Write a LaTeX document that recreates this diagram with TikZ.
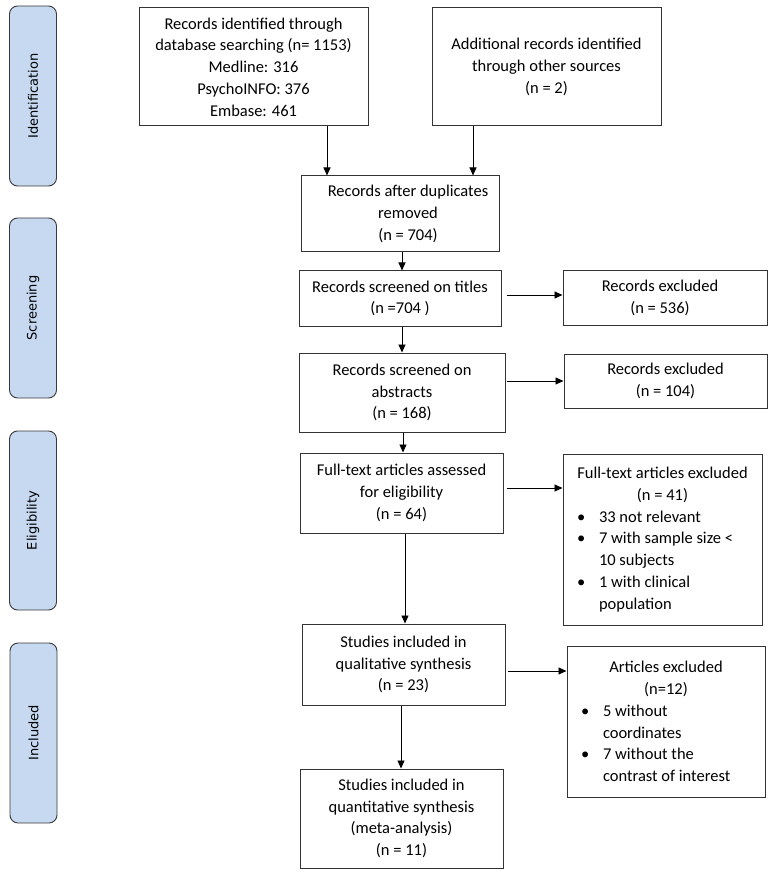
\documentclass[tikz,border=0pt]{standalone}
\usepackage{fontspec}
\setmainfont{Carlito}
\newfontfamily\phasefont{DejaVu Sans}
\usetikzlibrary{arrows.meta}
\definecolor{phasefill}{HTML}{C6D9F1}
\definecolor{phaseline}{HTML}{3A3A3A}
\definecolor{boxline}{HTML}{333333}
\newcommand{\hd}[2]{\makebox[#1][c]{#2}}
\newcommand{\bu}[2]{\makebox[#1][l]{\hspace*{14pt}\makebox[22pt][l]{\textbullet}#2}}
\newcommand{\bc}[2]{\makebox[#1][l]{\hspace*{36pt}#2}}
\begin{document}
\begin{tikzpicture}[x=1pt,y=-1pt,
  box/.style={draw=boxline, line width=1pt, rectangle, align=center, inner sep=0pt,
    font=\fontsize{16.5}{21.8}\selectfont},
  phase/.style={draw=phaseline, fill=phasefill, line width=0.9pt, rounded corners=8pt,
    minimum width=47pt, inner sep=0pt},
  phaselabel/.style={rotate=90, font=\phasefont\fontsize{13}{15}\selectfont},
  arr/.style={-{Triangle[length=8pt,width=7pt]}, line width=0.9pt, draw=black}]
\useasboundingbox (0,0) rectangle (772,874);
% phase boxes
\node[phase, minimum height=180pt] (pid) at (33,96) {};
\node[phaselabel] (lid) at (pid.center) {Identification};
\node[phase, minimum height=180pt] (psc) at (33,308) {};
\node[phaselabel] (lsc) at (psc.center) {Screening};
\node[phase, minimum height=179pt] (pel) at (33,520.5) {};
\node[phaselabel] (lel) at (pel.center) {Eligibility};
\node[phase, minimum height=180pt] (pin) at (33.5,733) {};
\node[phaselabel] (lin) at (pin.center) {Included};
% flow boxes
\node[box, minimum width=229pt, minimum height=118pt] (id1) at (253.5,67)
  {Records identified through\\database searching (n= 1153)\\Medline: 316\\PsychoINFO: 376\\Embase: 461};
\node[box, minimum width=229pt, minimum height=118pt] (id2) at (546.5,67)
  {Additional records identified\\through other sources\\(n = 2)};
\node[box, minimum width=198pt, minimum height=76pt] (dup) at (400,214)
  {\hspace*{16pt}Records after duplicates\\\hspace*{16pt}removed\\\hspace*{16pt}(n = 704)};
\node[box, minimum width=202pt, minimum height=55pt] (tit) at (400,298.5)
  {Records screened on titles\\(n =704 )};
\node[box, minimum width=204pt, minimum height=54pt] (ex1) at (665,298)
  {\hspace*{-10pt}Records excluded\\\hspace*{-10pt}(n = 536)};
\node[box, minimum width=206pt, minimum height=79pt] (abs) at (402,392.5)
  {Records screened on\\abstracts\\(n = 168)};
\node[box, minimum width=203pt, minimum height=54pt] (ex2) at (665.5,381)
  {Records excluded\\(n = 104)};
\node[box, minimum width=203pt, minimum height=80pt] (ft) at (401.5,493)
  {Full-text articles assessed\\for eligibility\\(n = 64)};
\node[box, minimum width=199pt, minimum height=171pt, align=left] (ex3) at (662.5,539.5)
  {\hd{199pt}{Full-text articles excluded}\\\hd{199pt}{(n = 41)}\\
   \bu{199pt}{33 not relevant}\\\bu{199pt}{7 with sample size <}\\\bc{199pt}{10 subjects}\\
   \bu{199pt}{1 with clinical}\\\bc{199pt}{population}};
\node[box, minimum width=203pt, minimum height=81pt] (qual) at (403.5,664.5)
  {Studies included in\\qualitative synthesis\\(n = 23)};
\node[box, minimum width=198pt, minimum height=151pt, align=left] (ex4) at (666,721.5)
  {\hd{198pt}{Articles excluded}\\\hd{198pt}{(n=12)}\\
   \bu{198pt}{5 without}\\\bc{198pt}{coordinates}\\
   \bu{198pt}{7 without the}\\\bc{198pt}{contrast of interest}};
\node[box, minimum width=203pt, minimum height=99pt] (quant) at (401.5,818.5)
  {Studies included in\\quantitative synthesis\\(meta-analysis)\\(n = 11)};
% connectors
\draw[arr] (id1.south -| 327,0) -- (dup.north -| 327,0);
\draw[arr] (id2.south -| 473,0) -- (dup.north -| 473,0);
\draw[arr] (dup.south -| 402,0) -- (tit.north -| 402,0);
\draw[arr] (tit.south -| 402,0) -- (abs.north -| 402,0);
\draw[arr] (abs.south -| 403,0) -- (ft.north -| 403,0);
\draw[arr] (ft.south -| 405,0) -- (qual.north -| 405,0);
\draw[arr] (qual.south -| 401,0) -- (quant.north -| 401,0);
\draw[arr, shorten <=5pt] (tit.east |- 0,295) -- (ex1.west |- 0,295);
\draw[arr, shorten <=1pt] (abs.east |- 0,381) -- (ex2.west |- 0,381);
\draw[arr, shorten <=3pt] (ft.east |- 0,488) -- (ex3.west |- 0,488);
\draw[arr, shorten <=2pt] (qual.east |- 0,671) -- (ex4.west |- 0,671);
\end{tikzpicture}
\end{document}
